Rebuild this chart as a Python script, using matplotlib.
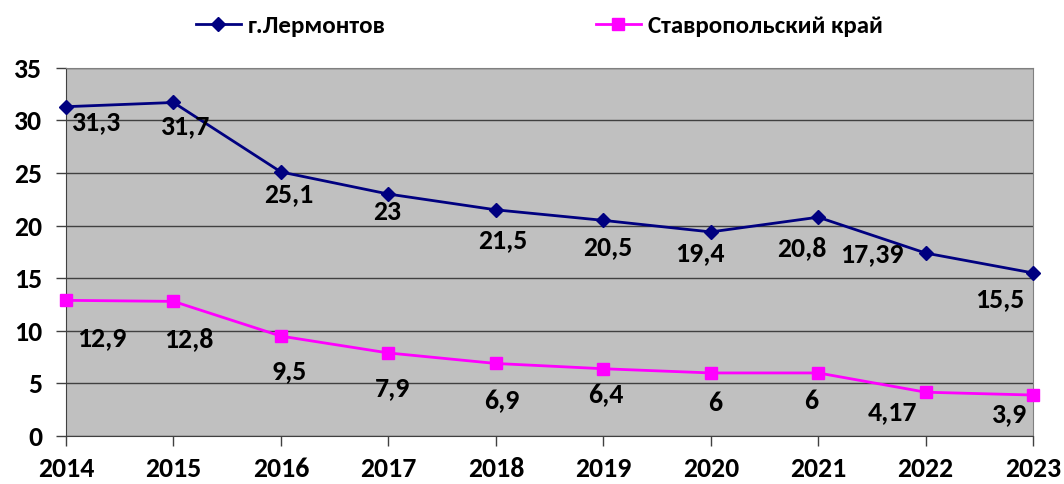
import numpy as np
import matplotlib.pyplot as plt

years = [2014, 2015, 2016, 2017, 2018, 2019, 2020, 2021, 2022, 2023]
lermontov = [31.3, 31.7, 25.1, 23, 21.5, 20.5, 19.4, 20.8, 17.39, 15.5]
stavropol = [12.9, 12.8, 9.5, 7.9, 6.9, 6.4, 6, 6, 4.17, 3.9]
lerm_labels = ['31,3', '31,7', '25,1', '23', '21,5', '20,5', '19,4', '20,8', '17,39', '15,5']
stav_labels = ['12,9', '12,8', '9,5', '7,9', '6,9', '6,4', '6', '6', '4,17', '3,9']

# label offsets in points (dx, dy) from the data point
lerm_off = [(22, -11), (9, -17), (6, -16), (-1, -13), (5, -22), (3, -19), (-8, -15), (-12, -22), (-39, -1), (-24, -19)]
stav_off = [(26, -27), (11, -27), (6, -25), (3, -25), (4, -27), (2, -19), (3, -22), (-5, -20), (-24, -14), (-17, -14)]

plt.rcParams['font.family'] = ['Carlito', 'Open Sans', 'DejaVu Sans']
plt.rcParams['font.weight'] = 'bold'

fig = plt.figure(figsize=(10.64, 4.84), dpi=100)
ax = fig.add_axes([0.062, 0.099, 0.909, 0.761])
ax.set_facecolor('#c0c0c0')

ax.plot(years, lermontov, color='#000080', lw=2, marker='D', ms=7,
        label='г.Лермонтов', clip_on=False, zorder=3)
ax.plot(years, stavropol, color='#ff00ff', lw=2, marker='s', ms=9,
        label='Ставропольский край', clip_on=False, zorder=3)

for x, y, s, o in zip(years, lermontov, lerm_labels, lerm_off):
    ax.annotate(s, (x, y), xytext=o, textcoords='offset points',
                ha='center', va='center', fontsize=20, fontweight='bold')
for x, y, s, o in zip(years, stavropol, stav_labels, stav_off):
    ax.annotate(s, (x, y), xytext=o, textcoords='offset points',
                ha='center', va='center', fontsize=20, fontweight='bold')

ax.set_xlim(2014, 2023)
ax.set_ylim(0, 35)
ax.set_xticks(years)
ax.set_yticks(np.arange(0, 36, 5))
ax.yaxis.grid(True, color='#404040', lw=1)
ax.set_axisbelow(True)
for sp in ax.spines.values():
    sp.set_color('#808080')
ax.spines['left'].set_color('#404040')
ax.spines['bottom'].set_color('#404040')
ax.tick_params(axis='both', labelsize=20, length=7, color='#404040', width=1)
ax.tick_params(axis='x', pad=8)
ax.tick_params(axis='y', pad=10)
for t in ax.get_xticklabels() + ax.get_yticklabels():
    t.set_fontweight('bold')

fig.legend(loc='upper center', bbox_to_anchor=(0.507, 1.015), ncol=2, frameon=False,
           fontsize=18, columnspacing=8.4, handlelength=1.8, handletextpad=0.3)

fig.savefig('out.png', dpi=100)
